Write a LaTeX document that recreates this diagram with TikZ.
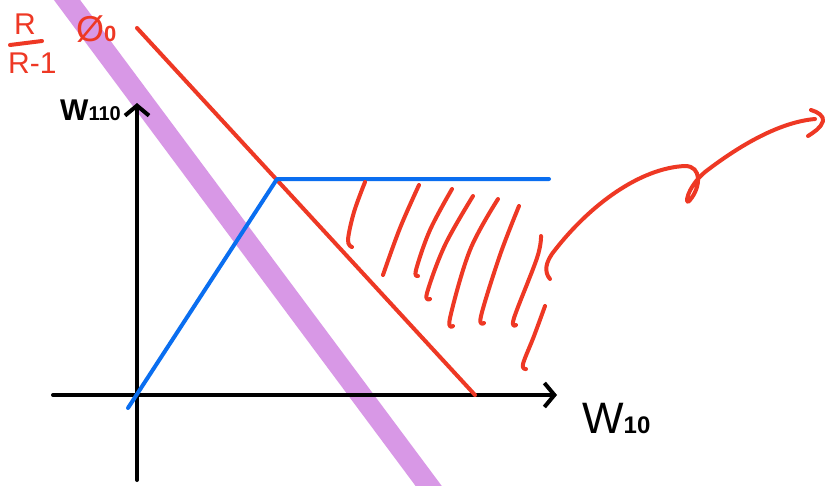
\documentclass[tikz,border=0pt]{standalone}
\usepackage{fontspec}
\setmainfont{Liberation Sans}
\usetikzlibrary{arrows.meta}
\definecolor{inkred}{RGB}{238,56,36}
\definecolor{inkblue}{RGB}{10,110,240}
\definecolor{inkpurple}{RGB}{216,152,230}
\begin{document}
\begin{tikzpicture}[x=1pt,y=-1pt,line cap=round,line join=round,
  redink/.style={draw=inkred,line width=4pt},
  blueink/.style={draw=inkblue,line width=4pt},
  axisink/.style={draw=black,line width=4pt,-{Straight Barb[length=10pt,width=24pt,line width=4pt]}},
  hatch/.style={redink,smooth,tension=0.6},
  lbl/.style={inner sep=0pt,anchor=base west}]
\useasboundingbox[fill=white] (0,0) rectangle (826,485);
% purple band
\coordinate (pA) at (59.6,-10);
\coordinate (pB) at (435.4,495);
\draw[draw=inkpurple,line width=21pt,line cap=butt] (pA) -- (pB);
% axes
\coordinate (xs) at (53,395);
\coordinate (xe) at (557,395);
\coordinate (ys) at (137,480);
\coordinate (ye) at (137,103);
\draw[axisink] (xs) -- (xe);
\draw[axisink] (ys) -- (ye);
% red line
\coordinate (rA) at (137,28);
\coordinate (rB) at (475,395);
\draw[redink] (rA) -- (rB);
% blue line
\coordinate (bA) at (128,408);
\coordinate (bK) at (277,179);
\coordinate (bE) at (549,179);
\draw[blueink] (bA) -- (bK) -- (bE);
% hatching
\draw[hatch] plot coordinates {(365,182) (354,212) (348,240) (352,247)};
\draw[hatch] plot coordinates {(419,185) (400,228) (383,275)};
\draw[hatch] plot coordinates {(452,189) (430,230) (416,270) (418,276)};
\draw[hatch] plot coordinates {(473,196) (445,245) (427,293) (430,299)};
\draw[hatch] plot coordinates {(498,199) (470,250) (450,318) (453,326)};
\draw[hatch] plot coordinates {(519,206) (500,255) (481,316) (484,323)};
\draw[hatch] plot coordinates {(541,236) (537,258) (514,318) (516,325)};
\draw[hatch] plot coordinates {(545,306) (534,336) (523,364) (526,369)};
% big curved arrow
\coordinate (cS) at (550,279);
\coordinate (cT) at (685,166);
\coordinate (cL) at (690,200);
\coordinate (cX) at (705,172);
\coordinate (cE) at (815,119);
\draw[redink] (cS) .. controls (544,272) and (545,262) .. (555,250)
  .. controls (590,205) and (640,168) .. (cT)
  .. controls (702,166) and (701,187) .. (cL)
  .. controls (684,208) and (686,188) .. (cX)
  .. controls (740,145) and (780,122) .. (cE);
\coordinate (hA) at (811,110);
\coordinate (hB) at (823,121);
\coordinate (hC) at (808,136);
\draw[redink] (hA) .. controls (818,112) and (824,116) .. (hB) .. controls (821,128) and (814,132) .. (hC);
% labels
\node[lbl] (ylab) at (60,120) {{\fontsize{30}{30}\selectfont\bfseries W}{\fontsize{20}{20}\selectfont\bfseries 110}};
\node[lbl] (xlab) at (582,433) {{\fontsize{44}{44}\selectfont W}{\fontsize{24}{24}\selectfont\bfseries 10}};
\node[lbl,text=inkred] (rnum) at (14,34) {\fontsize{30}{30}\selectfont R};
\node[lbl,text=inkred] (rden) at (8,73) {\fontsize{30}{30}\selectfont R-1};
\coordinate (fA) at (10,45);
\coordinate (fB) at (42,41);
\draw[redink] (fA) -- (fB);
\node[lbl,text=inkred] (phi) at (76,41) {{\fontsize{36}{36}\selectfont Ø}{\fontsize{22}{22}\selectfont\bfseries 0}};
\end{tikzpicture}
\end{document}
